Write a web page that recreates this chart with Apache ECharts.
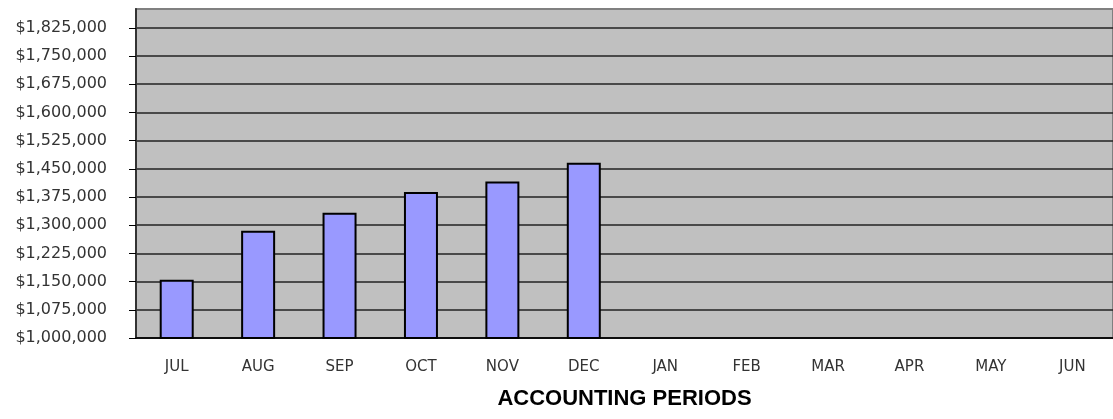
<!DOCTYPE html>
<html>
<head>
<meta charset="utf-8">
<script src="https://cdn.jsdelivr.net/npm/echarts@6/dist/echarts.min.js"></script>
<style>
    html, body { margin: 0; padding: 0; background: #fff; }
    #chart { width: 1113px; height: 419px; }
</style>
</head>
<body>
<div id="chart"></div>
<script>
var periods = ['JUL', 'AUG', 'SEP', 'OCT', 'NOV', 'DEC', 'JAN', 'FEB', 'MAR', 'APR', 'MAY', 'JUN'];
// later months sit on the baseline (no amount yet)
var amounts = [1155000, 1285000, 1333000, 1388000, 1416000, 1466000, 1000000, 1000000, 1000000, 1000000, 1000000, 1000000];
var yMin = 1000000;
var yMax = 1875000;
var yStep = 75000;

function money(v) {
    return '$' + v.toLocaleString('en-US');
}

var chart = echarts.init(document.getElementById('chart'), null, { renderer: 'canvas' });

var option = {
    animation: false,
    backgroundColor: '#ffffff',
    grid: {
        left: 136,
        top: 9,
        width: 980,
        bottom: 81,
        show: true,
        backgroundColor: '#c0c0c0',
        borderColor: '#808080',
        borderWidth: 2
    },
    xAxis: {
        type: 'category',
        data: periods,
        name: 'ACCOUNTING PERIODS',
        nameLocation: 'middle',
        nameGap: 50,
        nameTextStyle: {
            fontFamily: 'Liberation Sans',
            fontWeight: 'bold',
            fontSize: 22,
            color: '#000'
        },
        axisLine: { lineStyle: { color: '#000', width: 1.5 } },
        axisTick: { alignWithLabel: false, length: 5, lineStyle: { color: '#000' } },
        axisLabel: {
            margin: 22,
            fontFamily: 'DejaVu Sans',
            fontSize: 15,
            color: '#333'
        }
    },
    yAxis: {
        type: 'value',
        min: yMin,
        max: yMax,
        interval: yStep,
        axisLine: { show: true, lineStyle: { color: '#333', width: 2 } },
        axisTick: { show: true, length: 7, lineStyle: { color: '#000' } },
        axisLabel: {
            margin: 29,
            showMaxLabel: false,
            fontFamily: 'DejaVu Sans',
            fontSize: 16,
            color: '#333',
            formatter: money
        },
        splitLine: { showMaxLine: false, lineStyle: { color: '#222', width: 1.5 } }
    },
    series: [{
        type: 'bar',
        data: amounts,
        barWidth: 34,
        itemStyle: {
            color: '#9999ff',
            borderColor: '#000',
            borderWidth: 2
        }
    }]
};
chart.setOption(option);
</script>
</body>
</html>
